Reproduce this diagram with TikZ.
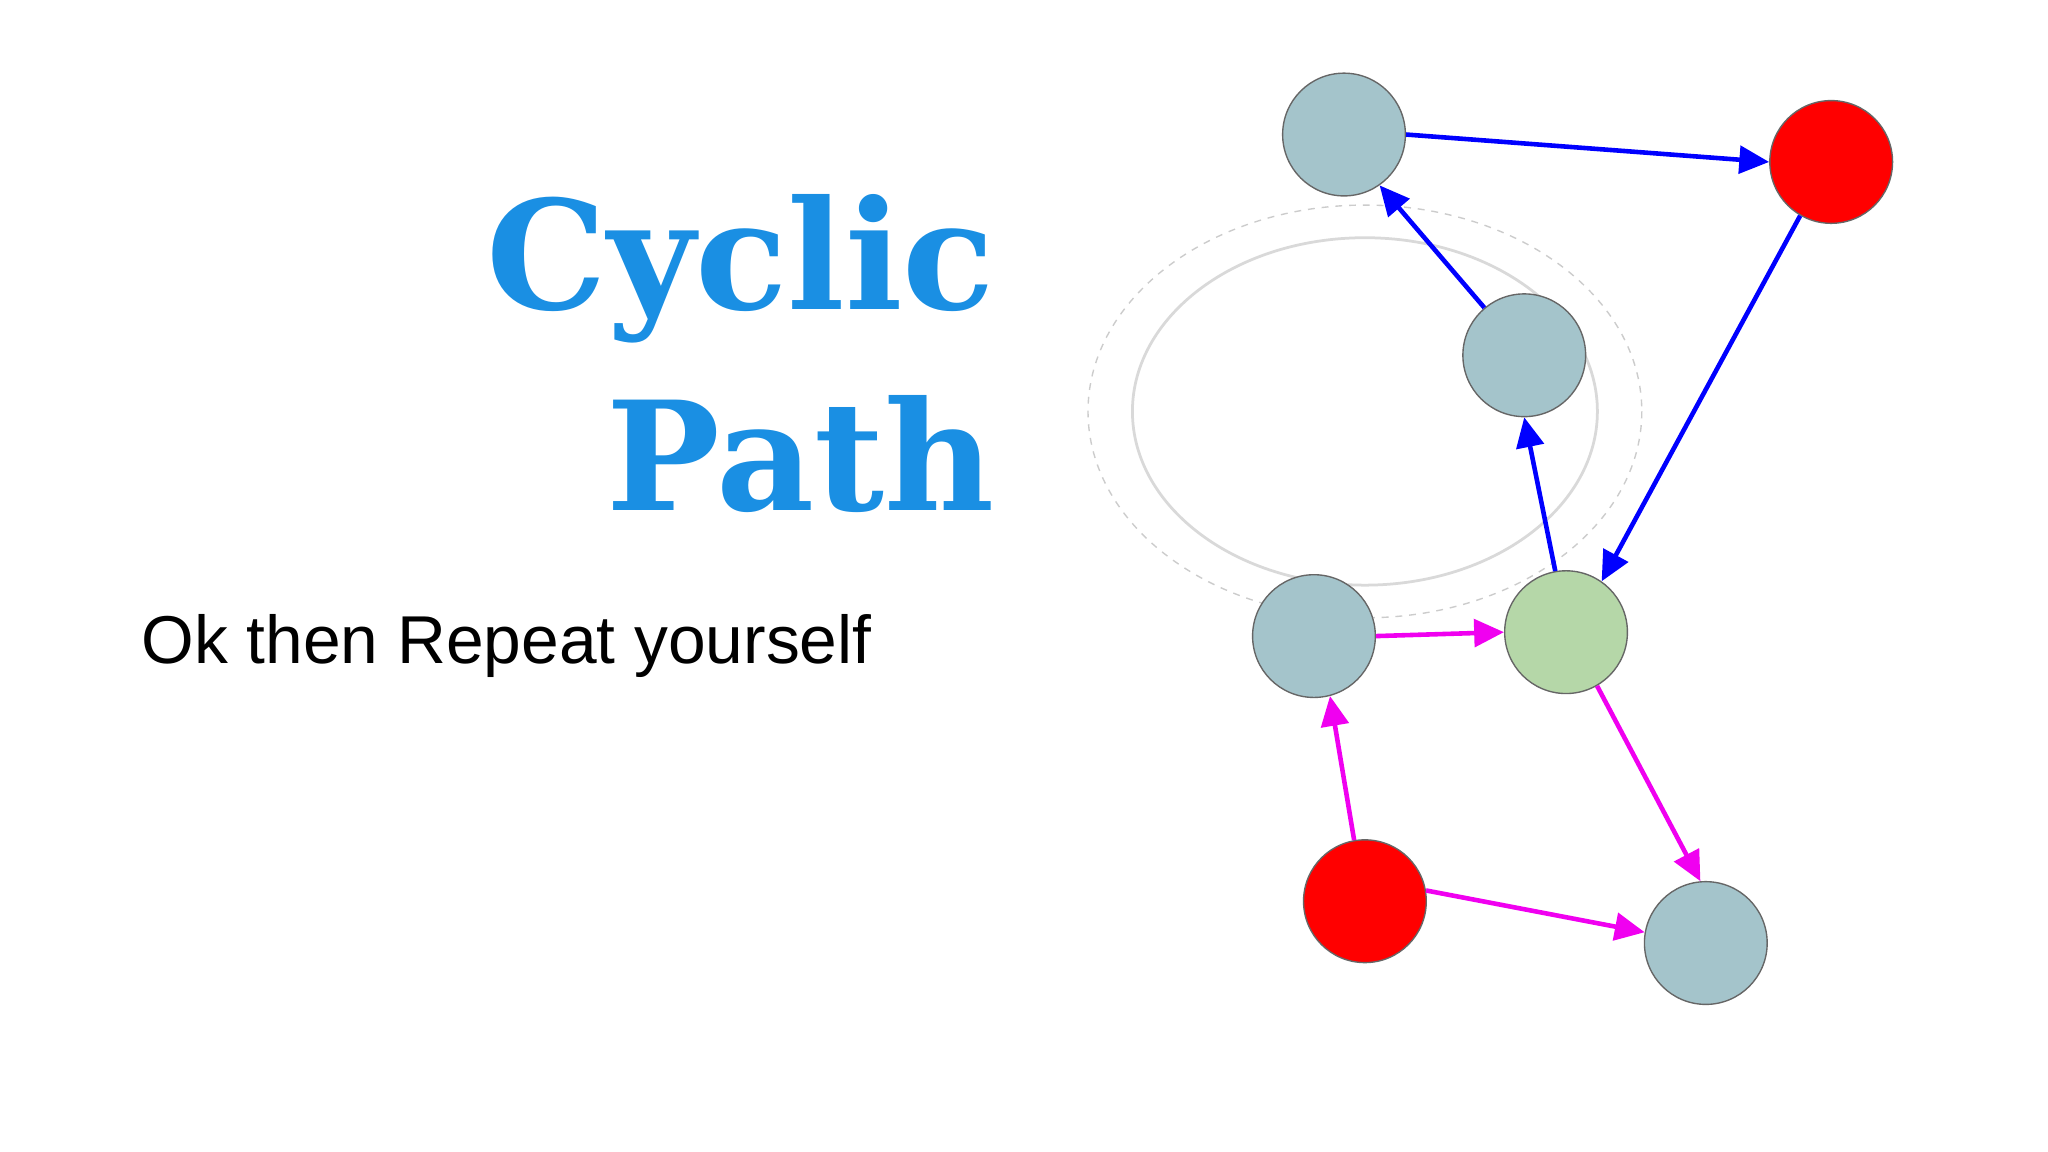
\documentclass[tikz,border=0pt]{standalone}
\usepackage{fontspec}
\setmainfont{Liberation Sans}
\newfontfamily\titlefont{DejaVu Serif}
\usetikzlibrary{arrows.meta}
\definecolor{gb}{HTML}{A4C4CB}
\definecolor{gr}{HTML}{B5D7A8}
\definecolor{tb}{HTML}{1A8FE3}
\definecolor{mg}{HTML}{F000F0}
\begin{document}
\begin{tikzpicture}[x=0.02cm,y=-0.02cm,
  vtx/.style={circle,draw=black!60,line width=0.6pt,minimum size=1.88cm,inner sep=0pt},
  bl/.style={draw=blue,line width=2pt,-{Triangle[length=13pt,width=12pt]}},
  mgl/.style={draw=mg,line width=2pt,-{Triangle[length=13pt,width=12pt]}}]
\useasboundingbox[fill=white] (0,0) rectangle (1568,882);
\draw[black!15,line width=1.2pt] (1045,315) ellipse [x radius=178,y radius=133];
\draw[black!20,dashed,line width=0.6pt] (1045,315) ellipse [x radius=212,y radius=158];
\node[vtx,fill=gb] (a) at (1029,103) {};
\node[vtx,fill=red] (b) at (1402,124) {};
\node[vtx,fill=gb] (c) at (1167,272) {};
\node[vtx,fill=gb] (d) at (1006,487) {};
\node[vtx,fill=gr] (e) at (1199,484) {};
\node[vtx,fill=red] (f) at (1045,690) {};
\node[vtx,fill=gb] (g) at (1306,722) {};
\draw[bl] (a.0) -- (b.180);
\draw[bl] (b.240) -- (e.55);
\draw[bl] (e.100) -- (c.270);
\draw[bl] (c.130) -- (a.305);
\draw[mgl] (d.0) -- (e.180);
\draw[mgl] (f.100) -- (d.285);
\draw[mgl] (f.10) -- (g.170);
\draw[mgl] (e.300) -- (g.95);
\node[anchor=base east,inner sep=0pt,text=tb,font=\titlefont\bfseries\fontsize{66}{80}\selectfont] (t1) at (762,237) {Cyclic};
\node[anchor=base east,inner sep=0pt,text=tb,font=\titlefont\bfseries\fontsize{66}{80}\selectfont] (t2) at (762,391) {Path};
\node[anchor=base west,inner sep=0pt,font=\fontsize{29.5}{34}\selectfont] (s) at (108,508) {Ok then Repeat yourself};
\end{tikzpicture}
\end{document}
